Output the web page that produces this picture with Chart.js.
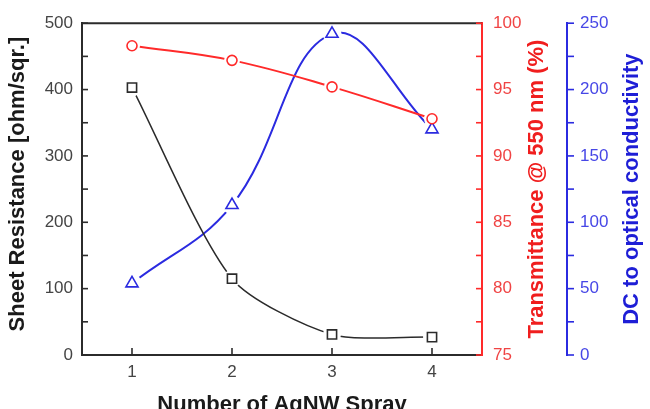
<!DOCTYPE html>
<html>
<head>
<meta charset="utf-8">
<script src="https://cdn.jsdelivr.net/npm/chart.js@4/dist/chart.umd.min.js"></script>
<style>
  html, body { margin: 0; padding: 0; background: #fff; }
  #wrap { width: 650px; height: 409px; }
</style>
</head>
<body>
<div id="wrap"><canvas id="sprayChart"></canvas></div>
<script>
// values
const sprays = ['1', '2', '3', '4'];
const sheetResistance = [403, 115, 31, 27];      // ohm/sqr.
const transmittance = [98.3, 97.2, 95.2, 92.8];  // % @ 550 nm
const dcOptical = [54, 113, 242, 170];           // DC to optical conductivity

const resTicks = { min: 0, max: 500, step: 50, labelEvery: 100 };
const transTicks = { min: 75, max: 100, step: 2.5, labelEvery: 5 };
const dcTicks = { min: 0, max: 250, step: 25, labelEvery: 50 };

const BLACK = '#2b2b2b';
const RED = '#ff2a2a';
const BLUE = '#2b2be0';
const FONT = '"Liberation Sans", Arial, sans-serif';

document.addEventListener('DOMContentLoaded', function() {
  const labelEvery = (every) => (v) => (Math.abs(v / every - Math.round(v / every)) < 1e-6 ? v : '');

  const lineSet = (data, axis, color, width, tension) => ({
    data: data, yAxisID: axis, borderColor: color, borderWidth: width,
    tension: tension, pointRadius: 0, fill: false, order: 3
  });
  // white disc under each marker so the line stops short of it
  const haloSet = (data, axis, radius) => ({
    data: data, yAxisID: axis, showLine: false, pointRadius: radius,
    pointBackgroundColor: '#fff', pointBorderColor: '#fff', pointBorderWidth: 0, order: 2
  });
  const markerSet = (data, axis, color, style, radius) => ({
    data: data, yAxisID: axis, showLine: false, pointStyle: style, pointRadius: radius,
    pointBackgroundColor: '#fff', pointBorderColor: color, pointBorderWidth: 1.6, order: 1
  });

  // inward / outward tick marks, frame top, rotated axis titles
  const decorPlugin = {
    id: 'decor',
    afterDraw(chart) {
      const ctx = chart.ctx;
      const area = chart.chartArea;
      const s = chart.scales;
      ctx.save();
      ctx.lineWidth = 1.6;

      ctx.strokeStyle = BLACK;
      s.y.ticks.forEach(t => {
        const py = s.y.getPixelForValue(t.value);
        ctx.beginPath(); ctx.moveTo(area.left, py); ctx.lineTo(area.left + 6, py); ctx.stroke();
      });
      sprays.forEach((c, i) => {
        const px = s.x.getPixelForValue(i);
        ctx.beginPath(); ctx.moveTo(px, area.bottom); ctx.lineTo(px, area.bottom - 7); ctx.stroke();
      });
      ctx.lineWidth = 2;
      ctx.beginPath(); ctx.moveTo(area.left - 1, area.top); ctx.lineTo(area.right, area.top); ctx.stroke();

      ctx.lineWidth = 1.6;
      ctx.strokeStyle = RED;
      s.yT.ticks.forEach(t => {
        const py = s.yT.getPixelForValue(t.value);
        ctx.beginPath(); ctx.moveTo(area.right, py); ctx.lineTo(area.right - 6, py); ctx.stroke();
      });
      ctx.strokeStyle = BLUE;
      s.yD.ticks.forEach(t => {
        const py = s.yD.getPixelForValue(t.value);
        ctx.beginPath(); ctx.moveTo(s.yD.left, py); ctx.lineTo(s.yD.left + 7, py); ctx.stroke();
      });

      const midY = (area.top + area.bottom) / 2;
      const vTitle = (text, x, y, color) => {
        ctx.save();
        ctx.translate(x, y);
        ctx.rotate(-Math.PI / 2);
        ctx.fillStyle = color;
        ctx.font = 'bold 22px ' + FONT;
        ctx.textAlign = 'center';
        ctx.textBaseline = 'middle';
        ctx.fillText(text, 0, 0);
        ctx.restore();
      };
      vTitle('Sheet Resistance [ohm/sqr.]', 18, midY - 5, '#1a1a1a');
      vTitle('Transmittance @ 550 nm (%)', 537, midY, '#f01e1e');
      vTitle('DC to optical conductivity', 632, midY, '#1e1ed6');

      ctx.fillStyle = '#1a1a1a';
      ctx.font = 'bold 22px ' + FONT;
      ctx.textAlign = 'center';
      ctx.textBaseline = 'middle';
      ctx.fillText('Number of AgNW Spray', (area.left + area.right) / 2, 405);
      ctx.restore();
    }
  };

  const yAxis = (cfg, position, color, labelColor, width, pad) => ({
    type: 'linear', position: position, min: cfg.min, max: cfg.max,
    grid: { display: false, drawTicks: false },
    border: { display: true, color: color, width: 2 },
    afterFit: (scale) => { scale.width = width; },
    ticks: {
      stepSize: cfg.step, autoSkip: false, padding: pad, color: labelColor,
      font: { family: FONT, size: 17 }, callback: labelEvery(cfg.labelEvery)
    }
  });

  new Chart(document.getElementById('sprayChart'), {
    type: 'line',
    data: {
      labels: sprays,
      datasets: [
        lineSet(sheetResistance, 'y', BLACK, 1.5, 0.25),
        lineSet(transmittance, 'yT', RED, 2, 0.4),
        lineSet(dcOptical, 'yD', BLUE, 2, 0.4),
        haloSet(sheetResistance, 'y', 9),
        haloSet(transmittance, 'yT', 8),
        haloSet(dcOptical, 'yD', 9.5),
        markerSet(sheetResistance, 'y', BLACK, 'rect', 6.5),
        markerSet(transmittance, 'yT', RED, 'circle', 5),
        markerSet(dcOptical, 'yD', BLUE, 'triangle', 7)
      ]
    },
    options: {
      responsive: true,
      maintainAspectRatio: false,
      animation: false,
      layout: { padding: { top: 19, left: 0, right: 0, bottom: 0 } },
      elements: { line: { capBezierPoints: false } },
      plugins: { legend: { display: false }, tooltip: { enabled: false } },
      scales: {
        x: {
          type: 'category', offset: true,
          grid: { display: false, drawTicks: false },
          border: { display: true, color: BLACK, width: 2 },
          afterFit: (scale) => { scale.height = 54; },
          ticks: { padding: 7, color: '#444', font: { family: FONT, size: 17 } }
        },
        y: yAxis(resTicks, 'left', BLACK, '#444', 82, 9),
        yT: yAxis(transTicks, 'right', RED, '#f04444', 85, 11),
        yD: yAxis(dcTicks, 'right', BLUE, '#4747e6', 83, 13)
      }
    },
    plugins: [decorPlugin]
  });
});
</script>
</body>
</html>
